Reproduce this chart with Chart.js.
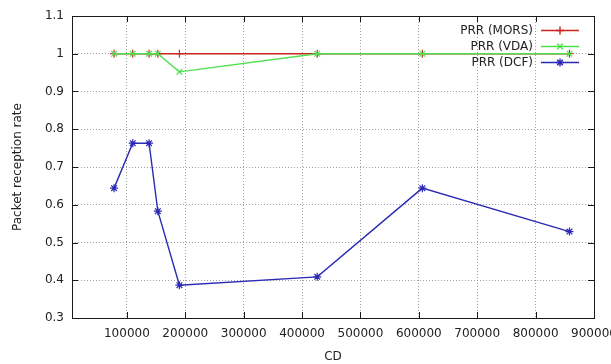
<!DOCTYPE html>
<html>
<head>
<meta charset="utf-8">
<script src="https://cdn.jsdelivr.net/npm/chart.js@4/dist/chart.umd.min.js"></script>
<style>
    html, body { margin: 0; padding: 0; background: #ffffff; overflow: hidden; }
    #prr_chart { display: block; }
</style>
</head>
<body>
<canvas id="prr_chart" width="611" height="364"></canvas>
<script>
// CD values for every run
const cdValues = [78000, 110000, 138000, 153000, 190000, 426000, 606000, 858000]
// packet reception rate per protocol
const prrMors = [1, 1, 1, 1, 1, 1, 1, 1]
const prrVda = [1, 1, 1, 1, 0.952, 1, 1, 1]
const prrDcf = [0.644, 0.763, 0.763, 0.583, 0.387, 0.409, 0.644, 0.529]

const xTicks = [100000, 200000, 300000, 400000, 500000, 600000, 700000, 800000, 900000]
const yTicks = [0.3, 0.4, 0.5, 0.6, 0.7, 0.8, 0.9, 1, 1.1]

const seriesNames = ["PRR (MORS)", "PRR (VDA)", "PRR (DCF)"]

const FONT = "DejaVu Sans"

function points(xs, ys) {
    return xs.map((x, i) => ({ x: x, y: ys[i] }))
}

// later series are drawn over earlier ones, like gnuplot does
function dataset(label, data, color, style, order) {
    return {
        label: label,
        data: data,
        order: order,
        borderColor: color,
        backgroundColor: color,
        borderWidth: 1.4,
        pointStyle: style,
        pointRadius: 4,
        pointBorderWidth: 1.2,
        pointBorderColor: color,
        tension: 0,
        fill: false,
    }
}

// frame, inward tick marks on all four sides, and a gnuplot-like key
const gnuFrame = {
    id: "gnuFrame",
    afterDraw(chart) {
        const ctx = chart.ctx
        const a = chart.chartArea
        const xs = chart.scales.x
        const ys = chart.scales.y
        ctx.save()
        ctx.strokeStyle = "#1a1a1a"
        ctx.lineWidth = 1
        ctx.beginPath()
        xTicks.forEach((v) => {
            const px = Math.round(xs.getPixelForValue(v)) + 0.5
            ctx.moveTo(px, a.bottom)
            ctx.lineTo(px, a.bottom - 6)
            ctx.moveTo(px, a.top)
            ctx.lineTo(px, a.top + 6)
        })
        yTicks.forEach((v) => {
            const py = Math.round(ys.getPixelForValue(v)) + 0.5
            ctx.moveTo(a.left, py)
            ctx.lineTo(a.left + 6, py)
            ctx.moveTo(a.right, py)
            ctx.lineTo(a.right - 6, py)
        })
        ctx.stroke()
        ctx.strokeRect(Math.round(a.left) + 0.5, Math.round(a.top) + 0.5,
            Math.round(a.right - a.left), Math.round(a.bottom - a.top))

        // key in the top right corner
        ctx.font = "12px '" + FONT + "'"
        ctx.textAlign = "right"
        ctx.textBaseline = "middle"
        chart.data.datasets.forEach((ds, i) => {
            const y = 30.5 + i * 16
            ctx.fillStyle = "#222222"
            ctx.fillText(ds.label, 533, y)
            ctx.strokeStyle = ds.borderColor
            ctx.lineWidth = 1.4
            ctx.beginPath()
            ctx.moveTo(541, y)
            ctx.lineTo(579, y)
            ctx.stroke()
            Chart.helpers.drawPoint(ctx, {
                pointStyle: ds.pointStyle,
                radius: 4,
                borderWidth: 1.2,
            }, 560, y)
        })
        ctx.restore()
    },
}

function main() {
    new Chart(document.getElementById("prr_chart"), {
        type: "line",
        data: {
            datasets: [
                dataset(seriesNames[0], points(cdValues, prrMors), "#c8261e", "cross", 3),
                dataset(seriesNames[1], points(cdValues, prrVda), "#4ee04e", "crossRot", 2),
                dataset(seriesNames[2], points(cdValues, prrDcf), "#2a2ab4", "star", 1),
            ],
        },
        options: {
            responsive: false,
            animation: false,
            layout: {
                padding: { left: 0, right: 17, top: 16, bottom: 0 },
            },
            plugins: {
                legend: { display: false },
                tooltip: { enabled: false },
            },
            scales: {
                x: {
                    type: "linear",
                    min: 6000,
                    max: 900000,
                    afterBuildTicks: (scale) => {
                        scale.ticks = xTicks.map((v) => ({ value: v }))
                    },
                    afterFit: (scale) => {
                        scale.height = 46
                        scale.paddingLeft = 0
                        scale.paddingRight = 0
                    },
                    grid: {
                        color: "#a0a0a0",
                        drawTicks: false,
                    },
                    border: { display: false, dash: [1, 2] },
                    ticks: {
                        autoSkip: false,
                        maxRotation: 0,
                        padding: 9,
                        color: "#222222",
                        font: { family: FONT, size: 12 },
                        callback: (v) => String(v),
                    },
                    title: {
                        display: true,
                        text: "CD",
                        color: "#222222",
                        font: { family: FONT, size: 12 },
                        padding: { top: 0, bottom: 0 },
                    },
                },
                y: {
                    min: 0.3,
                    max: 1.1,
                    afterBuildTicks: (scale) => {
                        scale.ticks = yTicks.map((v) => ({ value: v }))
                    },
                    afterFit: (scale) => {
                        scale.width = 72
                    },
                    grid: {
                        color: "#a0a0a0",
                        drawTicks: false,
                    },
                    border: { display: false, dash: [1, 2] },
                    ticks: {
                        padding: 8,
                        color: "#222222",
                        font: { family: FONT, size: 12 },
                        callback: (v) => String(Number(v.toFixed(1))),
                    },
                    title: {
                        display: true,
                        text: "Packet reception rate",
                        color: "#222222",
                        font: { family: FONT, size: 12 },
                        padding: { top: 11, bottom: 0 },
                    },
                },
            },
        },
        plugins: [gnuFrame],
    })
}

document.addEventListener("DOMContentLoaded", main)
</script>
</body>
</html>
